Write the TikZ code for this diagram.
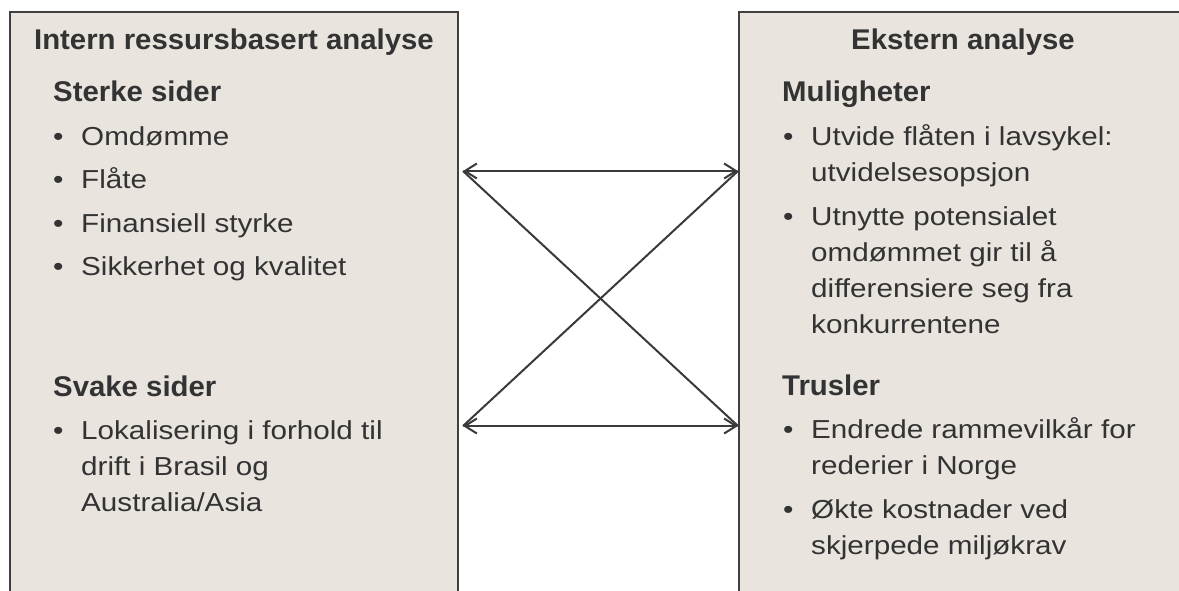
\documentclass[tikz,border=0pt]{standalone}
\usepackage{fontspec}
\setmainfont{Liberation Sans}
\newfontfamily\bodyfont[FakeStretch=1.14]{Liberation Sans}
\newfontfamily\headfont[FakeStretch=1.03]{Liberation Sans}
\usetikzlibrary{arrows.meta}
\definecolor{boxfill}{RGB}{233,228,222}
\definecolor{boxline}{RGB}{64,64,64}
\definecolor{txt}{RGB}{51,51,51}
\definecolor{arrowc}{RGB}{58,58,58}
\tikzset{
  panel/.style={draw=boxline, line width=2pt, fill=boxfill},
  head/.style={anchor=base west, inner sep=0pt, text=txt, font=\headfont\bfseries\fontsize{28.5}{34}\selectfont},
  body/.style={anchor=base west, inner sep=0pt, text=txt, font=\bodyfont\fontsize{26}{36}\selectfont},
  conn/.style={draw=arrowc, line width=2pt},
  dbl/.style={conn, {Straight Barb[length=12pt,width=15pt]}-{Straight Barb[length=12pt,width=15pt]}}
}
\begin{document}
\begin{tikzpicture}[x=1pt,y=-1pt]
\useasboundingbox (0,0) rectangle (1179,590);
\clip (0,0) rectangle (1179,590);
\fill[white] (0,0) rectangle (1179,590);
% panels
\draw[panel] (10,12) rectangle (458,620);
\draw[panel] (739,12) rectangle (1195,620);
% left panel
\node[head, anchor=base] (lt) at (234,49) {Intern ressursbasert analyse};
\node[head] (ls) at (53,101) {Sterke sider};
\node[body] (lb1) at (53,145) {•};
\node[body] (l1) at (81,145) {Omdømme};
\node[body] (lb2) at (53,188) {•};
\node[body] (l2) at (81,188) {Flåte};
\node[body] (lb3) at (53,232) {•};
\node[body] (l3) at (81,232) {Finansiell styrke};
\node[body] (lb4) at (53,275) {•};
\node[body] (l4) at (81,275) {Sikkerhet og kvalitet};
\node[head] (lw) at (53,396) {Svake sider};
\node[body] (lb5) at (53,439) {•};
\node[body] (l5a) at (81,439) {Lokalisering i forhold til};
\node[body] (l5b) at (81,475) {drift i Brasil og};
\node[body] (l5c) at (81,511) {Australia/Asia};
% right panel
\node[head, anchor=base] (rt) at (963,49) {Ekstern analyse};
\node[head] (ro) at (782,101) {Muligheter};
\node[body] (rb1) at (783,145) {•};
\node[body] (r1a) at (811,145) {Utvide flåten i lavsykel:};
\node[body] (r1b) at (811,181) {utvidelsesopsjon};
\node[body] (rb2) at (783,225) {•};
\node[body] (r2a) at (811,225) {Utnytte potensialet};
\node[body] (r2b) at (811,261) {omdømmet gir til å};
\node[body] (r2c) at (811,297) {differensiere seg fra};
\node[body] (r2d) at (811,333) {konkurrentene};
\node[head] (rthr) at (782,395) {Trusler};
\node[body] (rb3) at (783,438) {•};
\node[body] (r3a) at (811,438) {Endrede rammevilkår for};
\node[body] (r3b) at (811,474) {rederier i Norge};
\node[body] (rb4) at (783,518) {•};
\node[body] (r4a) at (811,518) {Økte kostnader ved};
\node[body] (r4b) at (811,554) {skjerpede miljøkrav};
% connectors
\coordinate (tl) at (463,171);
\coordinate (tr) at (738,171);
\coordinate (bl) at (463,426);
\coordinate (br) at (738,426);
\draw[dbl] (tl) -- (tr);
\draw[dbl] (bl) -- (br);
\draw[conn] (tl) -- (br);
\draw[conn] (bl) -- (tr);
\end{tikzpicture}
\end{document}
